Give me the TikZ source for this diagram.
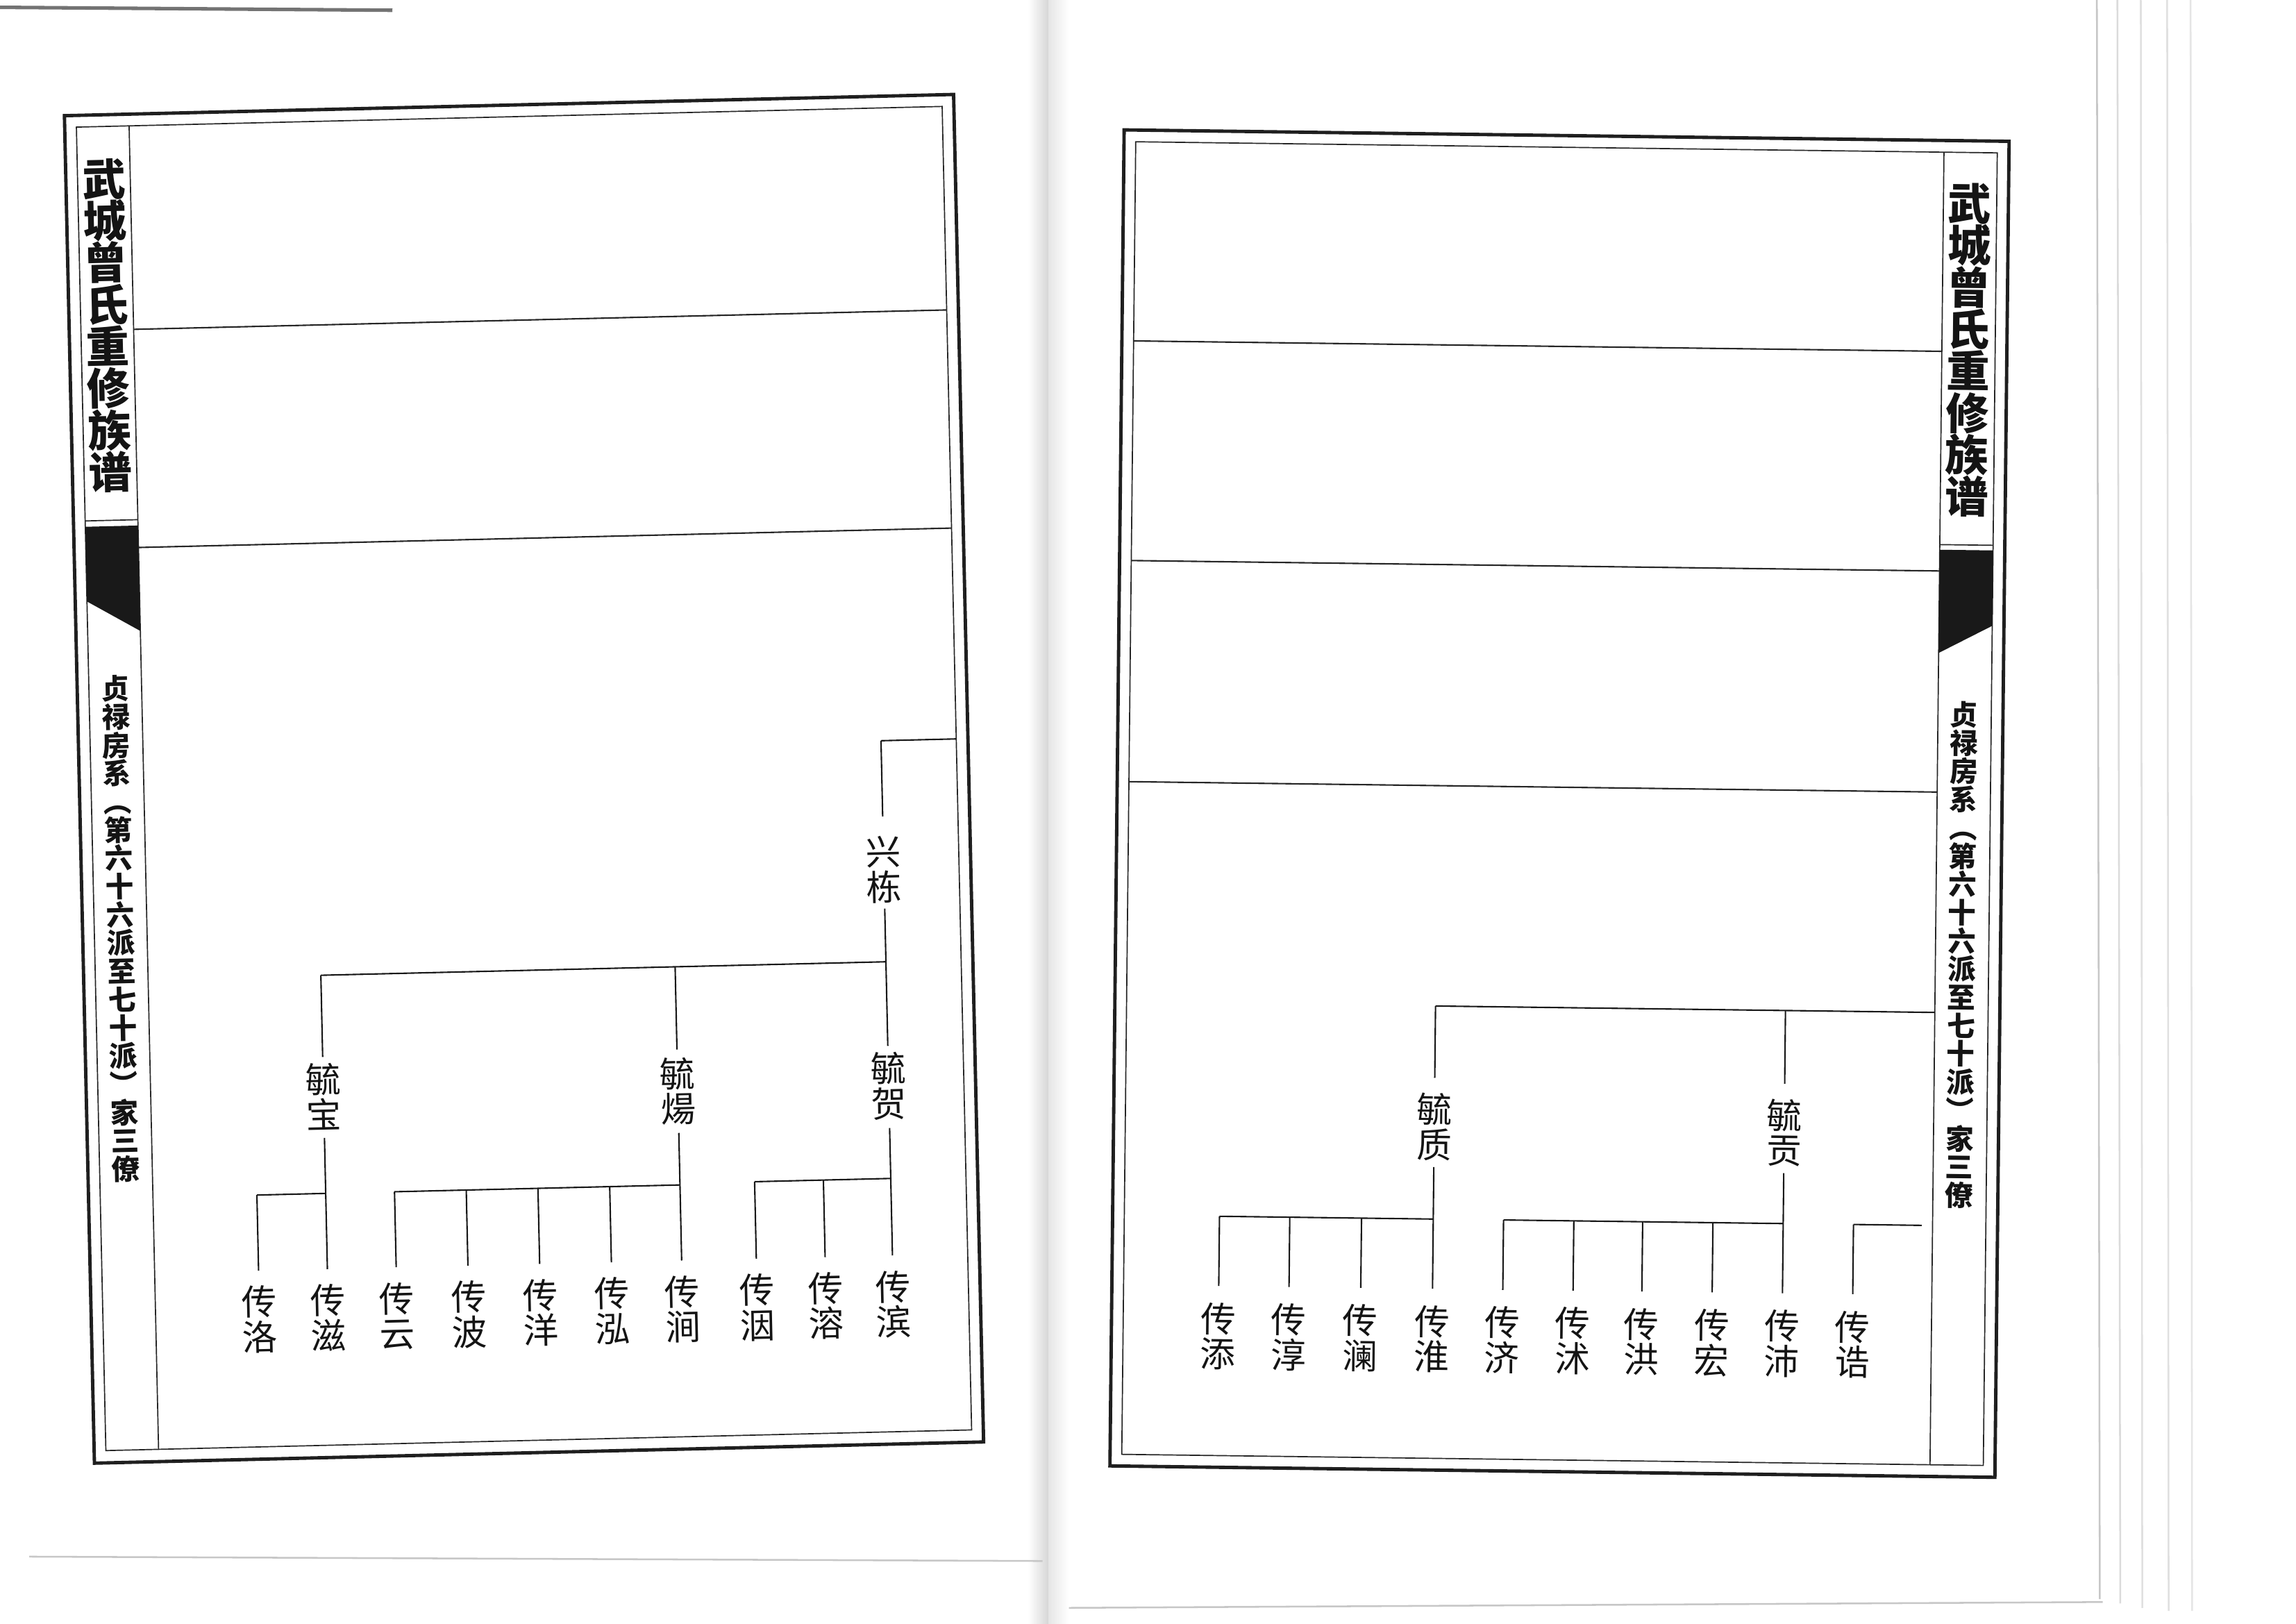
\documentclass[tikz,border=0pt]{standalone}
\usepackage{fontspec}
\newfontfamily\cjk{Noto Sans CJK SC}
\begin{document}
\begin{tikzpicture}[x=0.5pt,y={(0,-0.5pt)},
  outerframe/.style={line width=1.15pt, draw=black!88},
  innerframe/.style={line width=0.4pt, draw=black!85},
  rule/.style={line width=0.5pt, draw=black!85},
  link/.style={line width=0.5pt, draw=black!90},
  pname/.style={font=\cjk\fontsize{12}{12}\selectfont, align=center, inner sep=0pt, text=black!92},
  ptitle/.style={font=\cjk\bfseries\fontsize{14.8}{14.3}\selectfont, align=center, inner sep=0pt, text=black!92},
  psub/.style={font=\cjk\bfseries\fontsize{9.6}{9.65}\selectfont, align=center, inner sep=0pt, text=black!92},
  band/.style={fill=black!90},
  scanedge/.style={line width=0.6pt, draw=black!22},
]
\useasboundingbox (0,0) rectangle (1568,1109);
\fill[white] (0,0) rectangle (1568,1109);

% ---- scan surroundings (page edges, gutter) ----
\draw[line width=1.2pt, draw=black!55] (0,5) -- (268,7);
\shade[left color=white, right color=black!16] (702,0) rectangle (716,1109);
\shade[left color=black!10, right color=white] (716,0) rectangle (730,1109);
\draw[scanedge] (20,1063) -- (712,1066);
\draw[scanedge] (730,1098) -- (1436,1094);
\draw[scanedge] (1432,0) -- (1434,1092);
\draw[scanedge, draw=black!14] (1446,0) -- (1448,1095);
\draw[scanedge, draw=black!12] (1462,0) -- (1463,1098);
\draw[scanedge, draw=black!12] (1480,0) -- (1481,1100);
\draw[scanedge, draw=black!10] (1496,0) -- (1497,1100);

% =================== LEFT PAGE ===================
\begin{scope}[cm={0.99972,0.02387,-0.02227,0.99975,(44,79)}, transform shape]
  \draw[outerframe] (0,0) rectangle (607.4,920.4);
  \draw[innerframe] (8,8) rectangle (599.4,912);
  \draw[innerframe] (44,8) -- (44,912);
  \draw[rule] (44,147) -- (599.4,147);
  \draw[rule] (44,296) -- (599.4,296);
  \draw[innerframe] (8,277) -- (44,277);
  \fill[band] (8,281) -- (44,281) -- (44,353) -- (8,332) -- cycle;
  \node[ptitle] (ltitle) at (26,144) {武\\城\\曾\\氏\\重\\修\\族\\谱};
  \node[psub] (lsub) at (26,556) {贞\\禄\\房\\系\\︵\\第\\六\\十\\六\\派\\至\\七\\十\\派\\︶\\家\\三\\僚};

  % generation nodes
  \node[pname] (xd) at (548,528) {兴\\栋};
  \node[pname] (yb) at (162,674) {毓\\宝};
  \node[pname] (yy) at (404,676) {毓\\煬};
  \node[pname] (yh) at (548,676) {毓\\贺};
  \node[pname] (la) at (115,825) {传\\洛};
  \node[pname] (lb) at (162,825) {传\\滋};
  \node[pname] (lc) at (209,825) {传\\云};
  \node[pname] (ld) at (258,825) {传\\波};
  \node[pname] (le) at (307,825) {传\\洋};
  \node[pname] (lf) at (356,825) {传\\泓};
  \node[pname] (lg) at (404,825) {传\\涧};
  \node[pname] (lh) at (455,825) {传\\洇};
  \node[pname] (li) at (502,825) {传\\溶};
  \node[pname] (lj) at (548,825) {传\\滨};

  % connectors
  \coordinate (xdin) at (599.4,440);
  \coordinate (xdc) at (548,440);
  \draw[link] (xdin) -- (xdc);
  \draw[link, shorten >=6.5pt] (xdc) -- (xd.north);
  \draw[link, shorten <=1.7pt, shorten >=2pt] (xd.south) -- (yh.north);
  \coordinate (gb) at (162,591);
  \coordinate (gy) at (404,591);
  \coordinate (gh) at (548,591);
  \draw[link] (gb) -- (gh);
  \draw[link, shorten >=2pt] (gb) -- (yb.north);
  \draw[link, shorten >=2.5pt] (gy) -- (yy.north);

  \coordinate (ja) at (115,740);
  \coordinate (jb) at (162,740);
  \draw[link] (ja) -- (jb);
  \draw[link, shorten >=5pt] (ja) -- (la.north);
  \draw[link, shorten <=2.5pt, shorten >=5pt] (yb.south) -- (lb.north);

  \coordinate (jc) at (209,740);
  \coordinate (jd) at (258,740);
  \coordinate (je) at (307,740);
  \coordinate (jf) at (356,740);
  \coordinate (jg) at (404,740);
  \draw[link] (jc) -- (jg);
  \draw[link, shorten >=5pt] (jc) -- (lc.north);
  \draw[link, shorten >=5pt] (jd) -- (ld.north);
  \draw[link, shorten >=5pt] (je) -- (le.north);
  \draw[link, shorten >=5pt] (jf) -- (lf.north);
  \draw[link, shorten <=2.5pt, shorten >=5pt] (yy.south) -- (lg.north);

  \coordinate (jh) at (455,739);
  \coordinate (ji) at (502,739);
  \coordinate (jj) at (548,739);
  \draw[link] (jh) -- (jj);
  \draw[link, shorten >=5pt] (jh) -- (lh.north);
  \draw[link, shorten >=5pt] (ji) -- (li.north);
  \draw[link, shorten <=2.5pt, shorten >=5pt] (yh.south) -- (lj.north);
\end{scope}

% =================== RIGHT PAGE ===================
\begin{scope}[cm={0.99992,-0.0129,0.01063,0.99994,(767.7,88.7)}, transform shape]
  \draw[outerframe] (0,0) rectangle (604.4,912.4);
  \draw[innerframe] (8,8) rectangle (596.4,904.4);
  \draw[innerframe] (560,8) -- (560,904.4);
  \draw[rule] (8,144) -- (560,144);
  \draw[rule] (8,294) -- (560,294);
  \draw[rule] (8,445) -- (560,445);
  \draw[innerframe] (560,276) -- (596.4,276);
  \fill[band] (560,279.5) -- (596.4,279.5) -- (596.4,331) -- (560,350) -- cycle;
  \node[ptitle] (rtitle) at (578,143) {武\\城\\曾\\氏\\重\\修\\族\\谱};
  \node[psub] (rsub) at (578,556) {贞\\禄\\房\\系\\︵\\第\\六\\十\\六\\派\\至\\七\\十\\派\\︶\\家\\三\\僚};

  \node[pname] (yz) at (219,678) {毓\\质};
  \node[pname] (yg) at (458,679) {毓\\贡};
  \node[pname] (ra) at (73,823) {传\\添};
  \node[pname] (rb) at (121,823) {传\\淳};
  \node[pname] (rc) at (170,823) {传\\澜};
  \node[pname] (rd) at (219,823) {传\\淮};
  \node[pname] (re) at (267,823) {传\\济};
  \node[pname] (rf) at (315,823) {传\\沭};
  \node[pname] (rg) at (362,823) {传\\洪};
  \node[pname] (rh) at (410,823) {传\\宏};
  \node[pname] (ri) at (458,823) {传\\沛};
  \node[pname] (rj) at (506,823) {传\\诰};

  \coordinate (tz) at (219,595.5);
  \coordinate (tg) at (458,595.5);
  \coordinate (tin) at (560,595.5);
  \draw[link] (tin) -- (tz);
  \draw[link, shorten >=5pt] (tz) -- (yz.north);
  \draw[link, shorten >=5pt] (tg) -- (yg.north);

  \coordinate (ka) at (73,741);
  \coordinate (kb) at (121,741);
  \coordinate (kc) at (170,741);
  \coordinate (kd) at (219,741);
  \draw[link] (ka) -- (kd);
  \draw[link, shorten >=5.5pt] (ka) -- (ra.north);
  \draw[link, shorten >=5.5pt] (kb) -- (rb.north);
  \draw[link, shorten >=5.5pt] (kc) -- (rc.north);
  \draw[link, shorten <=2pt, shorten >=5.5pt] (yz.south) -- (rd.north);

  \coordinate (ke) at (267,741);
  \coordinate (kf) at (315,741);
  \coordinate (kg) at (362,741);
  \coordinate (kh) at (410,741);
  \coordinate (ki) at (458,741);
  \draw[link] (ke) -- (ki);
  \draw[link, shorten >=5.5pt] (ke) -- (re.north);
  \draw[link, shorten >=5.5pt] (kf) -- (rf.north);
  \draw[link, shorten >=5.5pt] (kg) -- (rg.north);
  \draw[link, shorten >=5.5pt] (kh) -- (rh.north);
  \draw[link, shorten <=2pt, shorten >=5.5pt] (yg.south) -- (ri.north);

  \coordinate (kjin) at (552.6,741);
  \coordinate (kj) at (506,741);
  \draw[link] (kjin) -- (kj);
  \draw[link, shorten >=5.5pt] (kj) -- (rj.north);
\end{scope}
\end{tikzpicture}
\end{document}
